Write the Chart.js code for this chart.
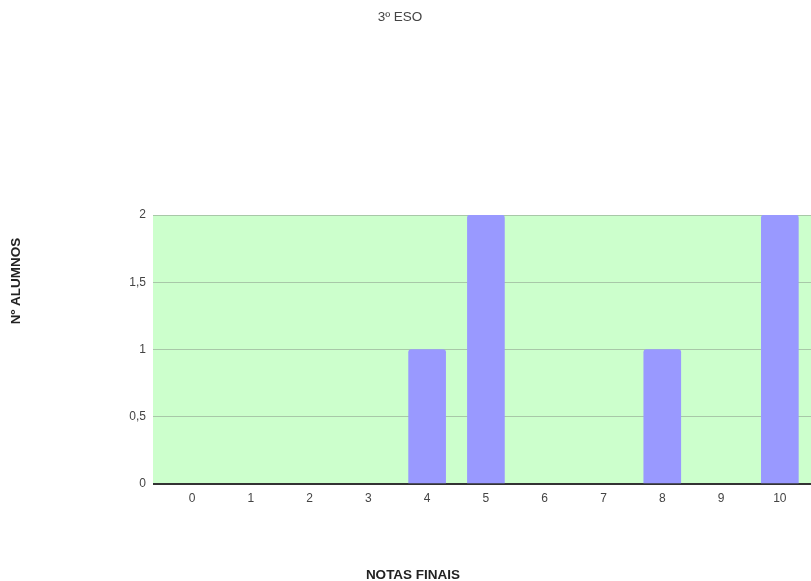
<!DOCTYPE html>
<html>
<head>
<meta charset="utf-8">
<title>3º ESO</title>
<script src="https://cdn.jsdelivr.net/npm/chart.js@4"></script>
<style>
  html, body { margin: 0; padding: 0; background: #fff; overflow: hidden; }
  #wrap { width: 811px; height: 581px; }
</style>
</head>
<body>
<div id="wrap"><canvas id="notasChart" width="811" height="581"></canvas></div>
<script>
/* ---------- data ---------- */
const chartTitle = "3º ESO";
const xTitle = "NOTAS FINAIS";
const yTitle = "Nº ALUMNOS";
const notas = [0, 1, 2, 3, 4, 5, 6, 7, 8, 9, 10];
const alumnos = [0, 0, 0, 0, 1, 2, 0, 0, 1, 0, 2];
const yTicks = [0, 0.5, 1, 1.5, 2];

const FONT = "Arial, 'Liberation Sans', sans-serif";

/* ---------- plot background ---------- */
const plotBg = {
  id: "plotBg",
  beforeDraw(chart) {
    const a = chart.chartArea;
    const ctx = chart.ctx;
    ctx.save();
    ctx.fillStyle = "#ccffcc";
    ctx.fillRect(a.left, a.top, a.right - a.left, a.bottom - a.top);
    ctx.restore();
  }
};

/* ---------- titles (fixed spots, like the original) ---------- */
const labels = {
  id: "labels",
  afterDraw(chart) {
    const ctx = chart.ctx;
    ctx.save();
    ctx.textAlign = "center";
    ctx.textBaseline = "middle";

    ctx.fillStyle = "#444";
    ctx.font = "13.5px " + FONT;
    ctx.fillText(chartTitle, 400, 17);

    ctx.fillStyle = "#222";
    ctx.font = "bold 13.5px " + FONT;
    ctx.fillText(xTitle, 413, 575);

    ctx.translate(16, 281);
    ctx.rotate(-Math.PI / 2);
    ctx.fillText(yTitle, 0, 0);
    ctx.restore();
  }
};

new Chart(document.getElementById("notasChart"), {
  type: "bar",
  data: {
    datasets: [{
      // zero counts draw no bar
      data: notas.map((n, i) => ({ x: n, y: alumnos[i] || null })),
      backgroundColor: "#9999ff",
      borderWidth: 0,
      borderRadius: { topLeft: 3, topRight: 3, bottomLeft: 0, bottomRight: 0 },
      borderSkipped: "bottom",
      barThickness: 37
    }]
  },
  options: {
    responsive: false,
    animation: false,
    layout: { padding: { top: 215, right: 0, bottom: 0, left: 0 } },
    plugins: {
      legend: { display: false },
      title: { display: false },
      tooltip: { enabled: false }
    },
    scales: {
      x: {
        type: "linear",
        offset: false,
        min: -0.663,
        max: 10.53,
        afterBuildTicks(scale) {
          scale.ticks = notas.map(v => ({ value: v }));
        },
        afterFit(scale) { scale.height = 97; },
        grid: { display: false, drawTicks: false },
        border: { display: false },
        ticks: {
          padding: 7,
          color: "#444",
          font: { family: FONT, size: 12 },
          maxRotation: 0,
          callback: v => String(v)
        }
      },
      y: {
        min: 0,
        max: 2,
        afterBuildTicks(scale) {
          scale.ticks = yTicks.map(v => ({ value: v }));
        },
        afterFit(scale) { scale.width = 153; },
        grid: {
          drawTicks: false,
          color: ctx => ctx.tick && ctx.tick.value === 0 ? "#333" : "#a8c8a8",
          lineWidth: ctx => ctx.tick && ctx.tick.value === 0 ? 2 : 1
        },
        border: { display: false },
        ticks: {
          padding: 7,
          color: "#444",
          font: { family: FONT, size: 12 },
          callback: v => String(v).replace(".", ",")
        }
      }
    }
  },
  plugins: [plotBg, labels]
});
</script>
</body>
</html>
